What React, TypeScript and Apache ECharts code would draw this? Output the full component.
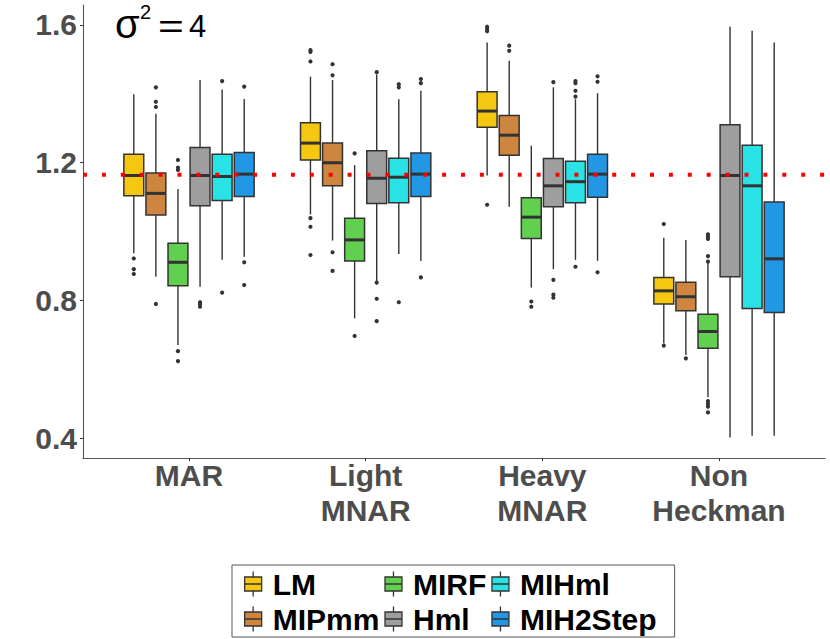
import React, { useEffect, useRef } from "react";
import * as echarts from "echarts";

const FONT = "'Liberation Sans', Arial, Helvetica, sans-serif";

const CATEGORIES = ["MAR", "Light\nMNAR", "Heavy\nMNAR", "Non\nHeckman"];
const METHODS = ["LM", "MIPmm", "MIRF", "Hml", "MIHml", "MIH2Step"];
const COLORS = ["#F5C710", "#CD853F", "#61D04F", "#9E9E9E", "#28E2E5", "#2297E6"];
const REFERENCE_VALUE = 1.165;
const Y_TICKS = [0.4, 0.8, 1.2, 1.6];
const Y_MIN = 0.3427;
const Y_MAX = 1.658;

// Box statistics per category: [low whisker, Q1, median, Q3, high whisker]
const LM_BOX = [
  [0.937, 1.104, 1.163, 1.225, 1.399],
  [1.05, 1.208, 1.257, 1.316, 1.45],
  [1.163, 1.303, 1.35, 1.406, 1.549],
  [0.676, 0.79, 0.828, 0.867, 0.982],
];
const MIPMM_BOX = [
  [0.869, 1.048, 1.111, 1.17, 1.342],
  [0.974, 1.133, 1.2, 1.257, 1.44],
  [1.072, 1.222, 1.28, 1.337, 1.496],
  [0.642, 0.77, 0.811, 0.853, 0.976],
];
const MIRF_BOX = [
  [0.671, 0.843, 0.911, 0.966, 1.124],
  [0.748, 0.915, 0.976, 1.039, 1.193],
  [0.838, 0.98, 1.042, 1.098, 1.249],
  [0.519, 0.661, 0.71, 0.76, 0.908],
];
const HML_BOX = [
  [0.84, 1.075, 1.163, 1.244, 1.44],
  [0.855, 1.082, 1.155, 1.235, 1.456],
  [0.891, 1.072, 1.133, 1.212, 1.419],
  [0.402, 0.869, 1.163, 1.31, 1.595],
];
const MIHML_BOX = [
  [0.918, 1.09, 1.16, 1.225, 1.413],
  [0.935, 1.084, 1.158, 1.213, 1.384],
  [0.918, 1.084, 1.145, 1.204, 1.384],
  [0.407, 0.777, 1.133, 1.251, 1.583],
];
const MIH2STEP_BOX = [
  [0.927, 1.102, 1.167, 1.23, 1.385],
  [0.915, 1.102, 1.167, 1.228, 1.409],
  [0.915, 1.1, 1.167, 1.225, 1.402],
  [0.407, 0.765, 0.921, 1.086, 1.549],
];

// Outliers: [category index, value]
const LM_OUT = [
  [0, 0.922], [0, 0.891], [0, 0.877],
  [1, 1.527], [1, 1.522], [1, 1.494], [1, 1.039], [1, 1.014], [1, 0.932],
  [2, 1.595], [2, 1.588], [2, 1.582], [2, 1.078],
  [3, 1.022], [3, 0.669],
];
const MIPMM_OUT = [
  [0, 1.419], [0, 1.377], [0, 1.362], [0, 0.79],
  [1, 1.486], [1, 1.454], [1, 0.94], [1, 0.886],
  [2, 1.54], [2, 1.525],
  [3, 0.632],
];
const MIRF_OUT = [
  [0, 1.208], [0, 1.186], [0, 1.179], [0, 0.653], [0, 0.624],
  [1, 1.227], [1, 0.697],
  [2, 0.797], [2, 0.782],
  [3, 0.992], [3, 0.985], [3, 0.979], [3, 0.929], [3, 0.913],
  [3, 0.508], [3, 0.5], [3, 0.492], [3, 0.475],
];
const HML_OUT = [
  [0, 0.795], [0, 0.789], [0, 0.782],
  [1, 1.463], [1, 0.852], [1, 0.805], [1, 0.74],
  [2, 1.434], [2, 0.86], [2, 0.817], [2, 0.808],
];
const MIHML_OUT = [
  [0, 1.437], [0, 0.823],
  [1, 1.428], [1, 1.419], [1, 0.795],
  [2, 1.437], [2, 1.431], [2, 1.409], [2, 1.392], [2, 0.898],
];
const MIH2STEP_OUT = [
  [0, 1.421], [0, 0.911], [0, 0.845],
  [1, 1.443], [1, 1.431], [1, 0.867],
  [2, 1.451], [2, 1.435], [2, 0.882],
];

const BOXES = [LM_BOX, MIPMM_BOX, MIRF_BOX, HML_BOX, MIHML_BOX, MIH2STEP_BOX];
const OUTLIERS = [LM_OUT, MIPMM_OUT, MIRF_OUT, HML_OUT, MIHML_OUT, MIH2STEP_OUT];

const DODGE = 0.75;
const BOX_FRAC = 0.9;
const EDGE = "#333333";

const LEGEND_ICON =
  "path://M0 5.5H17V19.5H0Z M8.5 0V5.5 M8.5 19.5V25 M0 12.5H17 M23 12.5";

function slotOffset(api: any, idx: number) {
  const band = api.size([1, 0])[0];
  const slot = (band * DODGE) / METHODS.length;
  return { off: (idx - (METHODS.length - 1) / 2) * slot, half: (slot * BOX_FRAC) / 2 };
}

function boxRenderer(idx: number) {
  return (params: any, api: any) => {
    const cat = api.value(0);
    const { off, half } = slotOffset(api, idx);
    const cx = api.coord([cat, api.value(3)])[0] + off;
    const yLow = api.coord([cat, api.value(1)])[1];
    const yQ1 = api.coord([cat, api.value(2)])[1];
    const yMed = api.coord([cat, api.value(3)])[1];
    const yQ3 = api.coord([cat, api.value(4)])[1];
    const yHigh = api.coord([cat, api.value(5)])[1];
    const ws = { stroke: EDGE, lineWidth: 1.4 };
    return {
      type: "group",
      children: [
        { type: "line", shape: { x1: cx, y1: yHigh, x2: cx, y2: yQ3 }, style: ws },
        { type: "line", shape: { x1: cx, y1: yQ1, x2: cx, y2: yLow }, style: ws },
        {
          type: "rect",
          shape: { x: cx - half, y: yQ3, width: half * 2, height: yQ1 - yQ3 },
          style: { fill: COLORS[idx], stroke: EDGE, lineWidth: 1.5 },
        },
        {
          type: "line",
          shape: { x1: cx - half, y1: yMed, x2: cx + half, y2: yMed },
          style: { stroke: EDGE, lineWidth: 3 },
        },
      ],
    };
  };
}

function outlierRenderer(idx: number) {
  return (params: any, api: any) => {
    const cat = api.value(0);
    const { off } = slotOffset(api, idx);
    const p = api.coord([cat, api.value(1)]);
    return {
      type: "circle",
      shape: { cx: p[0] + off, cy: p[1], r: 2.1 },
      style: { fill: EDGE },
    };
  };
}

export default function App() {
  const ref = useRef<HTMLDivElement>(null);

  useEffect(() => {
    if (!ref.current) return;
    const chart = echarts.init(ref.current, undefined, { renderer: "svg" });

    const boxSeries = METHODS.map((name, i) => ({
      name,
      type: "custom",
      xAxisIndex: 0,
      yAxisIndex: 0,
      z: 2,
      itemStyle: { color: COLORS[i] },
      renderItem: boxRenderer(i),
      encode: { x: 0, y: [1, 2, 3, 4, 5] },
      data: BOXES[i].map((b, c) => [c, ...b]),
    }));

    const outlierSeries = METHODS.map((name, i) => ({
      name: name + " outliers",
      type: "custom",
      xAxisIndex: 0,
      yAxisIndex: 0,
      z: 3,
      renderItem: outlierRenderer(i),
      encode: { x: 0, y: 1 },
      data: OUTLIERS[i],
    }));

    const option: any = {
      animation: false,
      backgroundColor: "#ffffff",
      grid: [
        { left: 100.67, right: 22.67, top: 5, bottom: 181 },
        { left: 83, right: 5, top: 5, bottom: 181 },
      ],
      xAxis: [
        {
          type: "category",
          gridIndex: 0,
          data: CATEGORIES,
          boundaryGap: true,
          axisLine: { show: false },
          axisTick: { show: true, alignWithLabel: true, length: 3, lineStyle: { color: EDGE } },
          axisLabel: {
            interval: 0,
            margin: 0,
            fontSize: 30,
            fontWeight: "bold",
            fontFamily: FONT,
            color: "#4D4D4D",
            lineHeight: 35,
          },
          splitLine: { show: false },
        },
        {
          type: "value",
          gridIndex: 1,
          min: 0,
          max: 1,
          axisLine: { show: true, onZero: false, lineStyle: { color: "#555555", width: 1.1 } },
          axisTick: { show: false },
          axisLabel: { show: false },
          splitLine: { show: false },
        },
      ],
      yAxis: [
        {
          type: "value",
          gridIndex: 0,
          min: Y_MIN,
          max: Y_MAX,
          show: false,
          splitLine: { show: false },
        },
        {
          type: "value",
          gridIndex: 1,
          min: Y_MIN,
          max: Y_MAX,
          axisLine: { show: true, onZero: false, lineStyle: { color: "#555555", width: 1.1 } },
          axisTick: { show: true, length: 3, customValues: Y_TICKS, lineStyle: { color: EDGE } },
          axisLabel: {
            customValues: Y_TICKS,
            formatter: (v: number) => v.toFixed(1),
            margin: 6,
            fontSize: 30,
            fontWeight: "bold",
            fontFamily: FONT,
            color: "#4D4D4D",
          },
          splitLine: { show: false },
        },
      ],
      legend: {
        orient: "vertical",
        left: 232,
        top: 565,
        height: 70,
        itemWidth: 23,
        itemHeight: 25,
        itemGap: 5,
        padding: [4, 18, 3, 12],
        borderColor: "#555555",
        borderWidth: 1,
        icon: LEGEND_ICON,
        selectedMode: false,
        textStyle: {
          fontSize: 30,
          fontWeight: "bold",
          fontFamily: FONT,
          color: "#000000",
          lineHeight: 21,
        },
        data: METHODS.map((m, i) => ({
          name: m,
          itemStyle: { color: COLORS[i], borderColor: EDGE, borderWidth: 1.3 },
        })),
      },
      graphic: [
        {
          type: "text",
          x: 115,
          y: 23.5,
          style: { text: "σ", fontSize: 40, fontFamily: FONT, fill: "#000", verticalAlign: "middle" },
        },
        {
          type: "text",
          x: 140,
          y: 11.5,
          style: {
            text: "2",
            fontSize: 20,
            fontFamily: FONT,
            fill: "#000",
            verticalAlign: "middle",
          },
        },
        {
          type: "text",
          x: 158,
          y: 26,
          scaleX: 1.3,
          style: { text: "=", fontSize: 34, fontFamily: FONT, fill: "#000", verticalAlign: "middle" },
        },
        {
          type: "text",
          x: 189,
          y: 26,
          style: { text: "4", fontSize: 31, fontFamily: FONT, fill: "#000", verticalAlign: "middle" },
        },
      ],
      series: [
        ...boxSeries,
        ...outlierSeries,
        {
          name: "reference",
          type: "line",
          xAxisIndex: 1,
          yAxisIndex: 1,
          z: 10,
          silent: true,
          symbol: "none",
          lineStyle: { color: "#FF0000", width: 4, type: [4, 14.9], cap: "butt" },
          data: [
            [0, REFERENCE_VALUE],
            [1, REFERENCE_VALUE],
          ],
        },
      ],
    };

    chart.setOption(option);
    return () => chart.dispose();
  }, []);

  return (
    <div
      ref={ref}
      style={{ position: "absolute", left: 0, top: 0, width: 830, height: 639, background: "#fff" }}
    />
  );
}
